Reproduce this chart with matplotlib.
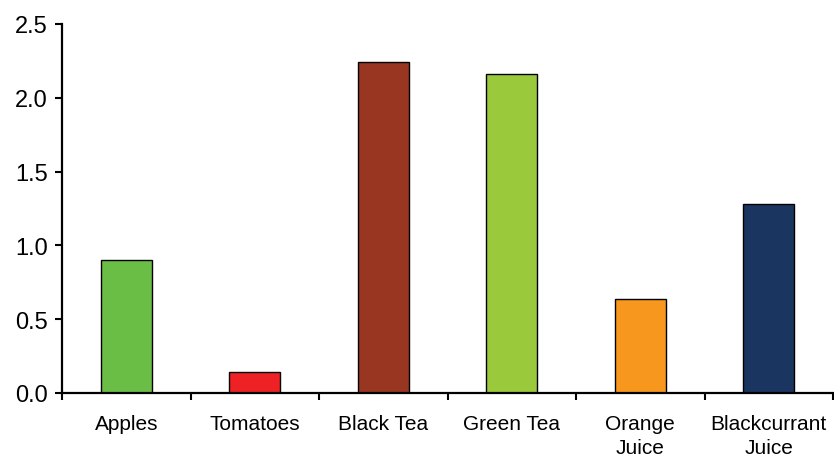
import matplotlib
matplotlib.use("Agg")
import matplotlib.pyplot as plt
import numpy as np

categories = ["Apples", "Tomatoes", "Black Tea", "Green Tea", "Orange\nJuice", "Blackcurrant\nJuice"]
values = [0.90, 0.14, 2.24, 2.16, 0.64, 1.28]
colors = ["#6BBE45", "#EE2224", "#983622", "#9BC93C", "#F7971D", "#1B3561"]
yticks = [0.0, 0.5, 1.0, 1.5, 2.0, 2.5]

plt.rcParams['font.family'] = ['Liberation Sans', 'DejaVu Sans']

fig = plt.figure(figsize=(8.34, 4.6), dpi=100)
ax = fig.add_axes([62/834, 66/460, (833-62)/834, (394-25)/460])

x = np.arange(len(categories))
ax.bar(x, values, width=0.4, color=colors, edgecolor="black", linewidth=1.0, zorder=2)

ax.set_xlim(-0.5, len(categories) - 0.5)
ax.set_ylim(0, 2.5)
ax.set_yticks(yticks)
ax.set_yticklabels([f"{v:.1f}" for v in yticks], fontsize=17)

ax.set_xticks(np.arange(len(categories) + 1) - 0.5)
ax.set_xticklabels([])
ax.set_xticks(x, minor=True)
ax.set_xticklabels(categories, minor=True, fontsize=15, linespacing=1.35)
ax.tick_params(axis='x', which='minor', length=0, pad=15)
ax.tick_params(axis='x', which='major', direction='out', length=5, width=1.5)
ax.tick_params(axis='y', direction='out', length=5, width=1.5, pad=5)

for s in ["top", "right"]:
    ax.spines[s].set_visible(False)
for s in ["left", "bottom"]:
    ax.spines[s].set_linewidth(1.6)

fig.savefig("out.png", dpi=100)
